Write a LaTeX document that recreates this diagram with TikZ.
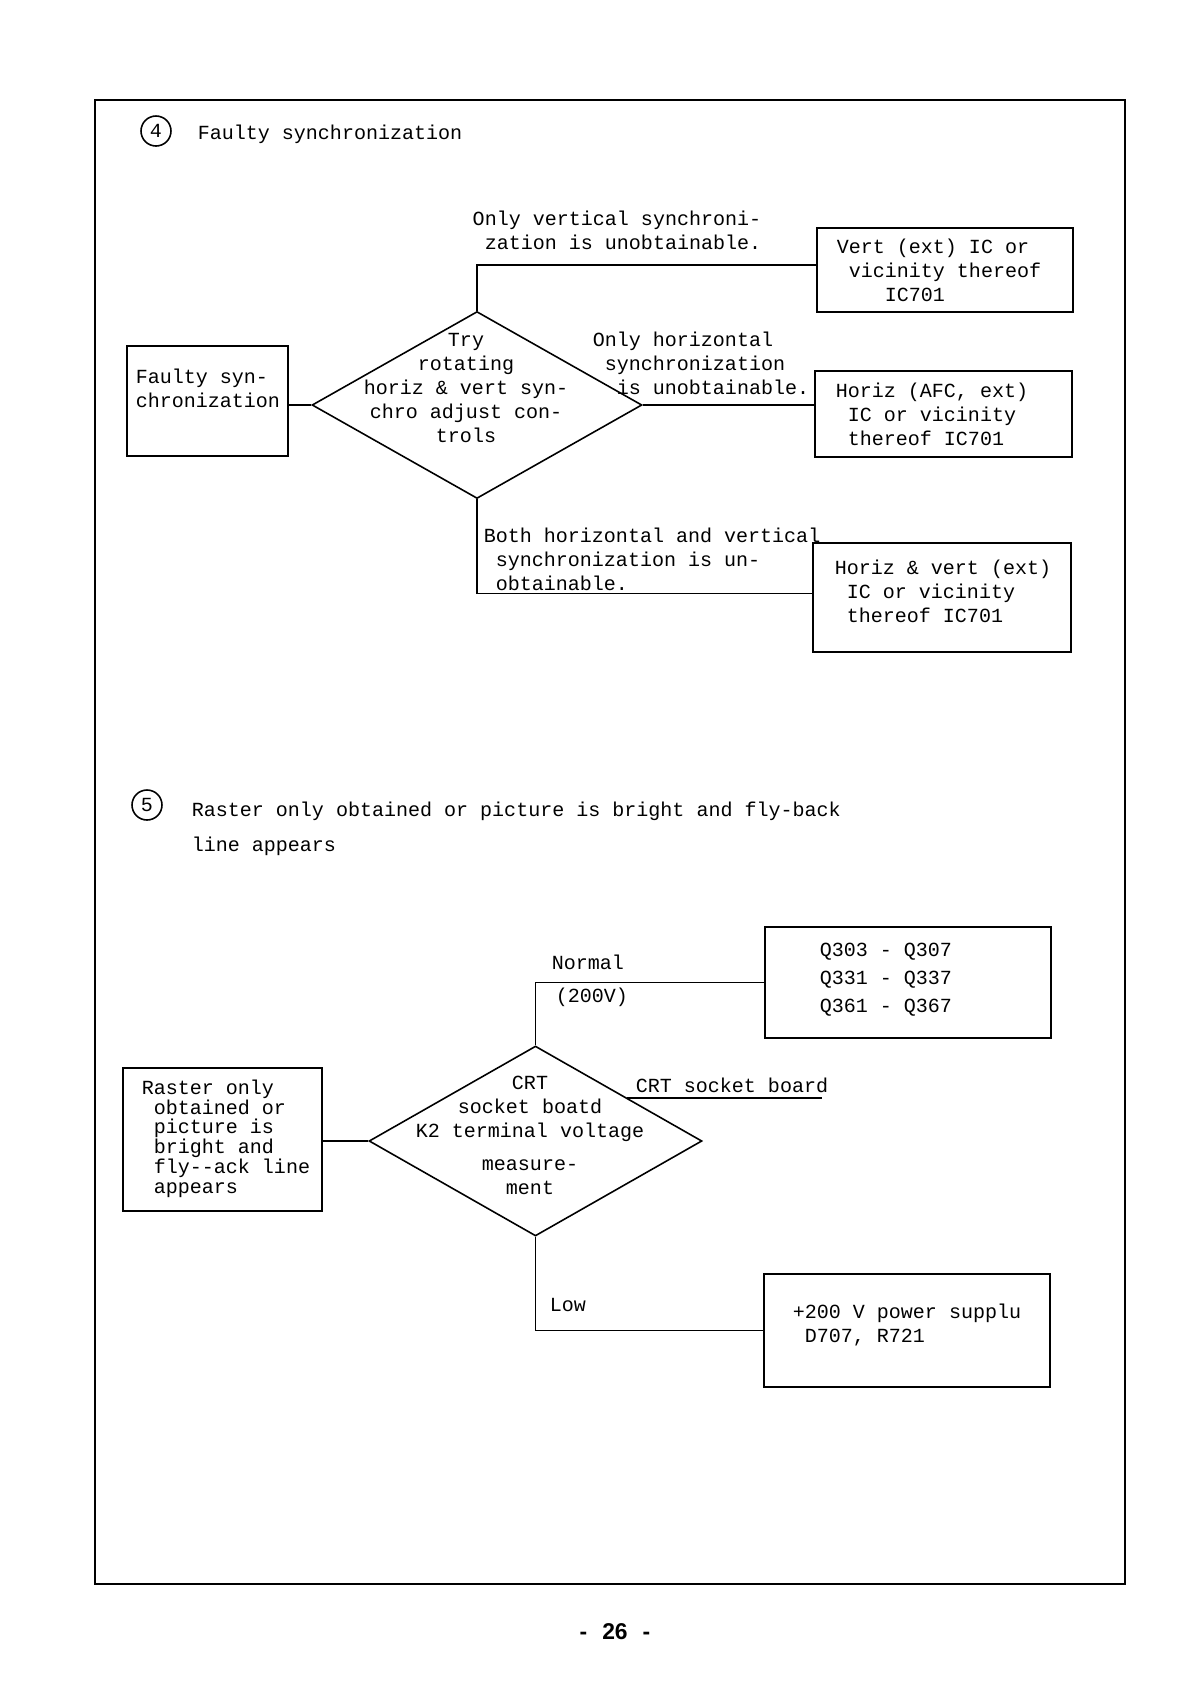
\documentclass[tikz,border=0pt]{standalone}
\usepackage{fontspec}
\setmainfont{Liberation Mono}
\newfontfamily\pagefont{Liberation Sans}
\usepackage{tikz}
\usetikzlibrary{shapes.geometric, calc}

\tikzset{
  blockbox/.style={draw, rectangle, line width=0.9pt, inner sep=0pt},
  decision/.style={draw, diamond, line width=0.9pt, inner sep=0pt},
  numcircle/.style={draw, circle, minimum size=0.6cm, inner sep=0pt},
  txt/.style={align=left, anchor=base west}
}

\begin{document}
\begin{tikzpicture}[
  x=0.02cm, y=-0.02cm, line width=0.9pt,
  every node/.style={font=\fontsize{11.4}{13.6}\selectfont, inner sep=0pt}
]
  \useasboundingbox[fill=white] (0,0) rectangle (1191,1685);
  \draw[line width=1.3pt] (95,100) rectangle (1125,1584);

  % (4) faulty synchronization
  \node[numcircle] (n4) at (156,131) {4};
  \node[txt] (head4) at (197,139) {Faulty synchronization};

  \node[blockbox, minimum width=3.22cm, minimum height=2.2cm] (boxA) at (207.5,401) {};
  \node[txt] (txtA) at (135,407) {Faulty syn-\\chronization};

  \node[decision, minimum width=6.6cm, minimum height=3.74cm] (dia1) at (477,405) {};
  \node[align=center, anchor=base] (txtdia1) at (466,442)
    {Try\\rotating\\horiz \& vert syn-\\chro adjust con-\\trols};

  \node[blockbox, minimum width=5.12cm, minimum height=1.68cm] (boxB) at (945,270) {};
  \node[txt] (txtB) at (836,301) {Vert (ext) IC or\\~vicinity thereof\\~~~~IC701};

  \node[blockbox, minimum width=5.14cm, minimum height=1.72cm] (boxC) at (943.5,414) {};
  \node[txt] (txtC) at (835,445) {Horiz (AFC, ext)\\~IC or vicinity\\~thereof IC701};

  \node[blockbox, minimum width=5.16cm, minimum height=2.18cm] (boxD) at (942,597.5) {};
  \node[txt] (txtD) at (834,622) {Horiz \& vert (ext)\\~IC or vicinity\\~thereof IC701};

  \draw (dia1.west -| boxA.east) -- (dia1.west);
  \draw (dia1.north) |- ([yshift=0.1cm]boxB.west);
  \draw (dia1.east) -- (dia1.east -| boxC.west);
  \draw (dia1.south) |- ([yshift=0.08cm]boxD.west);

  \node[align=right, anchor=base east] (lblV) at (762,249)
    {Only vertical synchroni-\\zation is unobtainable.};
  \node[txt] (lblH) at (592,394)
    {Only horizontal\\~synchronization\\~~is unobtainable.};
  \node[txt] (lblHV) at (483,590)
    {Both horizontal and vertical\\~synchronization is un-\\~obtainable.};

  % (5) raster only / bright picture with fly-back line
  \node[numcircle] (n5) at (147,805) {5};
  \node[txt] (head5) at (191,851)
    {Raster only obtained or picture is bright and fly-back\\[6pt]line appears};

  \node[blockbox, minimum width=3.98cm, minimum height=2.86cm] (boxF) at (222.5,1139.5) {};
  \node[txt, font=\fontsize{11.4}{11.2}\selectfont] (txtF) at (141,1193)
    {Raster only\\~obtained or\\~picture is\\~bright and\\~fly-{}-ack line\\~appears};

  \node[decision, minimum width=6.66cm, minimum height=3.8cm] (dia2) at (535.5,1141) {};
  \node[align=center, anchor=base] (txtdia2) at (530,1194)
    {CRT\\socket boatd\\K2 terminal voltage\\[5pt]measure-\\ment};

  \node[blockbox, minimum width=5.72cm, minimum height=2.22cm] (boxE) at (908,982.5) {};
  \node[txt] (txtE) at (819,1012) {Q303 - Q307\\[2.3pt]Q331 - Q337\\[2.3pt]Q361 - Q367};

  \node[blockbox, minimum width=5.72cm, minimum height=2.26cm] (boxG) at (907,1330.5) {};
  \node[txt] (txtG) at (792,1342) {+200 V power supplu\\~D707, R721};

  \coordinate (crtedge) at ($(dia2.north)!0.55!(dia2.east)$);
  \coordinate (crtend) at (822,1099);

  \draw (dia2.west -| boxF.east) -- (dia2.west);
  \draw (dia2.north) |- (boxE.west);
  \draw (dia2.south) |- (boxG.west);
  \draw (crtedge) -- (crtedge -| crtend);

  \node[txt] (lblN) at (551,969) {Normal};
  \node[txt] (lblV2) at (555,1002) {(200V)};
  \node[txt] (lblCRT) at (635,1092) {CRT socket board};
  \node[txt] (lblL) at (549,1311) {Low};

  \node[font=\pagefont\bfseries\fontsize{13}{15}\selectfont] (pgnum) at (615,1632)
    {-\hspace{0.3cm}26\hspace{0.3cm}-};
\end{tikzpicture}
\end{document}
